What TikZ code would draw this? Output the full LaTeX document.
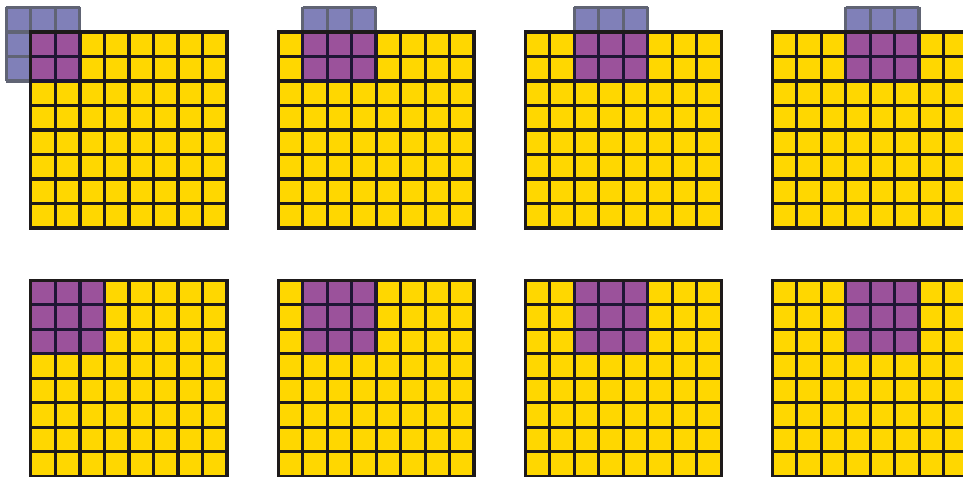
\documentclass[tikz,border=0pt]{standalone}
\usepackage{tikz}
\usepackage{xcolor}
\definecolor{CellGold}{RGB}{255,215,0}
\definecolor{WindowPurple}{RGB}{155,82,155}
\definecolor{KernelBlue}{RGB}{128,128,184}
\definecolor{KernelEdge}{RGB}{96,100,116}
\definecolor{WindowInk}{RGB}{30,22,52}
\definecolor{GridInk}{RGB}{30,26,26}

\begin{document}
\begin{tikzpicture}[x=0.5cm, y=-0.5cm, line join=miter]
          % Frame of the figure (in cell units)
          \useasboundingbox (0,0) rectangle (39.306,19.429);
          % Eight panels: grid corner, then window column/row
          \foreach \gx/\gy/\kc/\kr in {1.265/1.306/-1/-1, 11.347/1.306/1/-1, 21.429/1.306/2/-1, 31.51/1.306/3/-1,
                                       1.265/11.429/0/0, 11.347/11.429/1/0, 21.429/11.429/2/0, 31.51/11.429/3/0} {
            \begin{scope}[shift={(\gx,\gy)}]
              % Input cells
              \fill[CellGold] (0,0) rectangle (8,8);
              % Sliding window
              \fill[KernelBlue] (\kc,\kr) rectangle ++(3,3);
              \fill[WindowPurple] ({max(\kc,0)},{max(\kr,0)}) rectangle ({\kc+3},{\kr+3});
              \draw[KernelEdge, line width=1.75pt, step=0.5cm] (\kc,\kr) grid ++(3,3);
              % Grid lines
              \draw[GridInk, line width=1.75pt, step=0.5cm] (0,0) grid (8,8);
              \begin{scope}
                \clip (0,0) rectangle (8,8);
                \draw[WindowInk, line width=1.75pt, step=0.5cm] (\kc,\kr) grid ++(3,3);
              \end{scope}
              \draw[GridInk, line width=1.75pt] (0,0) rectangle (8,8);
            \end{scope}
          }
        \end{tikzpicture}
\end{document}
